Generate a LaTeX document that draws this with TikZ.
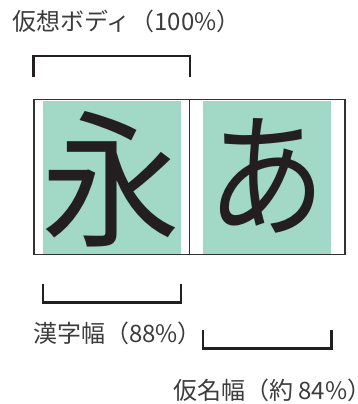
\documentclass[tikz,border=0pt]{standalone}
\usepackage{fontspec}
\usepackage{graphicx}
\setmainfont{Noto Sans CJK JP}
\usetikzlibrary{calc}
\definecolor{facegreen}{RGB}{161,216,198}
\definecolor{ink}{RGB}{35,31,32}
\definecolor{framegray}{RGB}{50,50,50}
\definecolor{labelgray}{RGB}{60,60,60}
\begin{document}
\begin{tikzpicture}[x=1pt,y=-1pt,
  body/.style={draw=framegray, line width=1.2pt, minimum width=155.5pt, minimum height=155pt, inner sep=0pt},
  face/.style={fill=facegreen, minimum height=153pt, inner sep=0pt},
  glyph/.style={inner sep=0pt, text=ink, anchor=base},
  label/.style={inner sep=0pt, text=labelgray, font=\fontsize{24}{26}\selectfont},
  bracket/.style={draw=ink, line width=2.5pt}]
\useasboundingbox (0,0) rectangle (358,404);
% faces (character widths)
\node[face, minimum width=138pt] (kface) at (112,177.3) {};
\node[face, minimum width=128pt] (hface) at (267.3,177.3) {};
% virtual bodies
\node[body] (kbody) at (111.75,177.25) {};
\node[body] (hbody) at (267.25,177.25) {};
% glyphs
\node[glyph, font=\fontsize{148}{148}\selectfont] (kglyph) at (111.5,235) {\scalebox{0.94}[1]{永}};
\node[glyph, font=\fontsize{136}{136}\selectfont] (hglyph) at (267,226.5) {\scalebox{0.87}[1]{あ}};
% brackets
\draw[bracket] ($(kbody.north west)+(0,-22.5)$) -- ++(0,-20.5) -| ($(kbody.north east)+(0,-22.5)$);
\draw[bracket] ($(kface.south west)+(0,30)$) -- ++(0,18.5) -| ($(kface.south east)+(0,30)$);
\draw[bracket] ($(hface.south west)+(0,76)$) -- ++(0,18.5) -| ($(hface.south east)+(0,76)$);
% labels
\node[label, anchor=west] (title) at (12,21) {仮想ボディ（100\%）};
\node[label, anchor=west] (klabel) at (33,333) {漢字幅（88\%）};
\node[label, anchor=west] (hlabel) at (173,390) {仮名幅（約 84\%\makebox[0.45em][l]{）}};
\end{tikzpicture}
\end{document}
